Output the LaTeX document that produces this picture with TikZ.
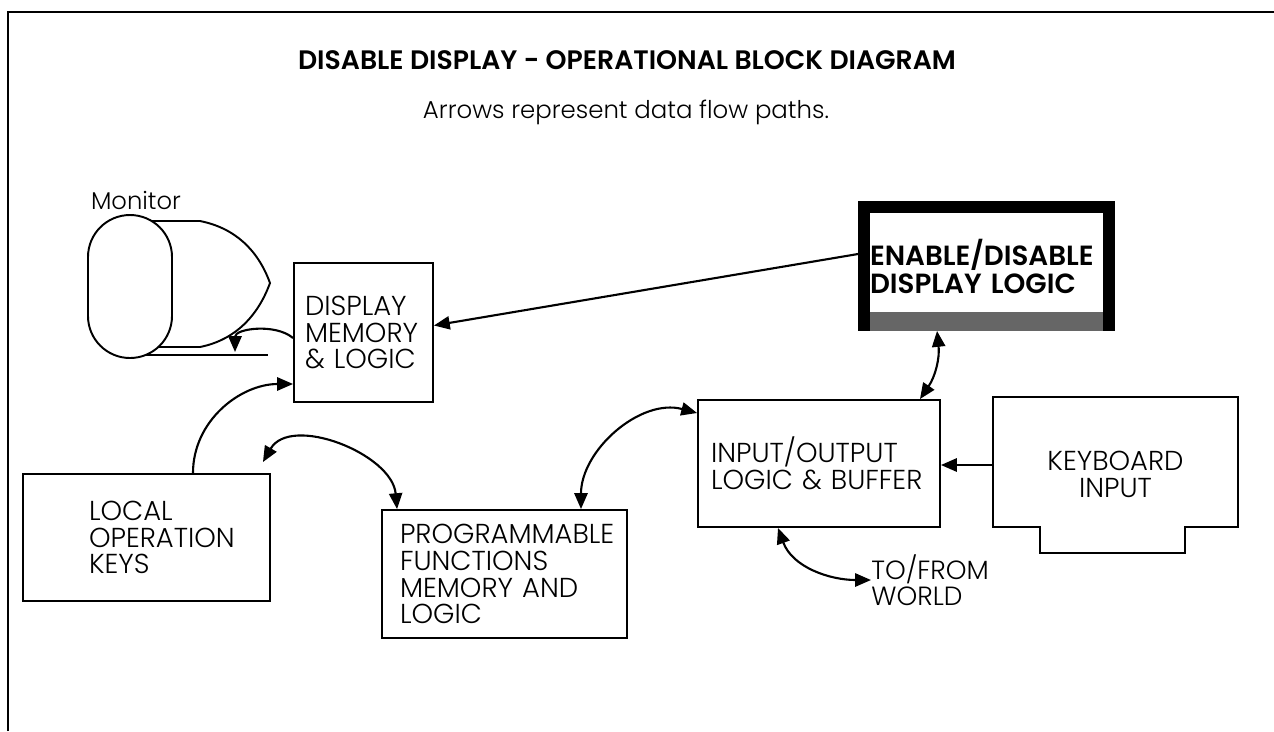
\documentclass[tikz,border=0pt]{standalone}
\usepackage{fontspec}
\setmainfont{Poppins}[UprightFont=* Light, BoldFont=* SemiBold]
\usetikzlibrary{arrows.meta}

\tikzset{
  >={Triangle[length=9pt,width=7.5pt]},
  blk/.style={draw, line width=1.1pt, align=left, inner ysep=0pt,
    font=\fontsize{15.6}{15.3}\selectfont},
  flow/.style={line width=1.2pt, ->},
  flow2/.style={line width=1.2pt, <->},
}

\begin{document}
\begin{tikzpicture}[x=0.02cm, y=-0.02cm]
    \useasboundingbox (0,0) rectangle (1274,731);
    \draw[line width=1.2pt] (8,731) -- (8,12) -- (1274,12);

    \node[font=\bfseries\fontsize{15.2}{16}\selectfont] (title) at (627,60) {DISABLE DISPLAY - OPERATIONAL BLOCK DIAGRAM};
    \node[font=\fontsize{13.9}{16}\selectfont] (sub) at (626,112) {Arrows represent data flow paths.};
    \node[font=\fontsize{13.8}{16}\selectfont] (mon) at (136,200) {Monitor};

    \draw[line width=1.1pt, rounded corners=0.84cm] (88,215) rectangle (172,358);
    \draw[line width=1.1pt] (152,221) -- (200,221) .. controls (235,228) and (258,250) .. (270,283)
      .. controls (258,316) and (235,340) .. (200,347) -- (158,347);
    \draw[line width=1.1pt] (146,355) -- (268,355);
    \coordinate (monfoot) at (235,352);

    \node[blk, minimum width=2.78cm, minimum height=2.78cm, text width=2.34cm, inner xsep=0.22cm] (disp) at (363.5,332.5) {DISPLAY\\MEMORY\\\& LOGIC};
    \node[blk, minimum width=4.94cm, minimum height=2.54cm, text width=2.30cm, inner xsep=1.32cm] (local) at (146.5,537.5) {LOCAL\\OPERATION\\KEYS};
    \node[blk, minimum width=4.9cm, minimum height=2.56cm, text width=4.18cm, inner xsep=0.36cm] (prog) at (504.5,574) {PROGRAMMABLE\\FUNCTIONS\\MEMORY AND\\LOGIC};
    \node[blk, minimum width=4.84cm, minimum height=2.54cm, text width=4.32cm, inner xsep=0.26cm] (io) at (819,463.5) {INPUT/OUTPUT\\LOGIC \& BUFFER};
    \node[blk, draw=none, align=center] (kbd) at (1115.5,474) {KEYBOARD\\INPUT};
    \node[blk, line width=0.24cm, minimum width=4.9cm, minimum height=2.36cm, text width=4.66cm, inner xsep=0.12cm,
      font=\bfseries\fontsize{15.8}{16}\selectfont] (enable) at (986.5,266) {ENABLE/DISABLE\\DISPLAY LOGIC};
    \node[font=\fontsize{15}{15}\selectfont, align=left, anchor=west, inner sep=0pt] (world) at (871,580) {TO/FROM\\WORLD};

    \fill[black!60] ([xshift=0.24cm]enable.south west) rectangle ([xshift=-0.24cm,yshift=0.38cm]enable.south east);
    \draw[line width=1.1pt] (993,397) -- (1238,397) -- (1238,527) -- (1185,527) -- (1185,553)
      -- (1040,553) -- (1040,527) -- (993,527) -- cycle;
    \coordinate (kbdin) at (993,465);

    \draw[flow] ([yshift=0.24cm]enable.west) -- ([yshift=0.14cm]disp.east);
    \draw[flow] ([yshift=-0.11cm]disp.west) to[out=140,in=90] (monfoot);
    \draw[flow] ([xshift=0.93cm]local.north) to[out=90,in=180] ([yshift=-1.03cm]disp.west);
    \draw[flow2] ([xshift=-0.16cm,yshift=0.22cm]local.north east) to[out=60,in=95] ([xshift=-2.15cm]prog.north);
    \draw[flow2] ([xshift=1.53cm]prog.north) to[out=90,in=165] ([yshift=1.01cm]io.west);
    \draw[flow2] ([xshift=-0.99cm]enable.south) to[bend left=20] ([xshift=2.02cm]io.north);
    \draw[flow] (kbdin) -- (kbdin -| io.east);
    \draw[flow2] ([xshift=-0.82cm]io.south) to[out=-70,in=180] (world.west);
\end{tikzpicture}
\end{document}
